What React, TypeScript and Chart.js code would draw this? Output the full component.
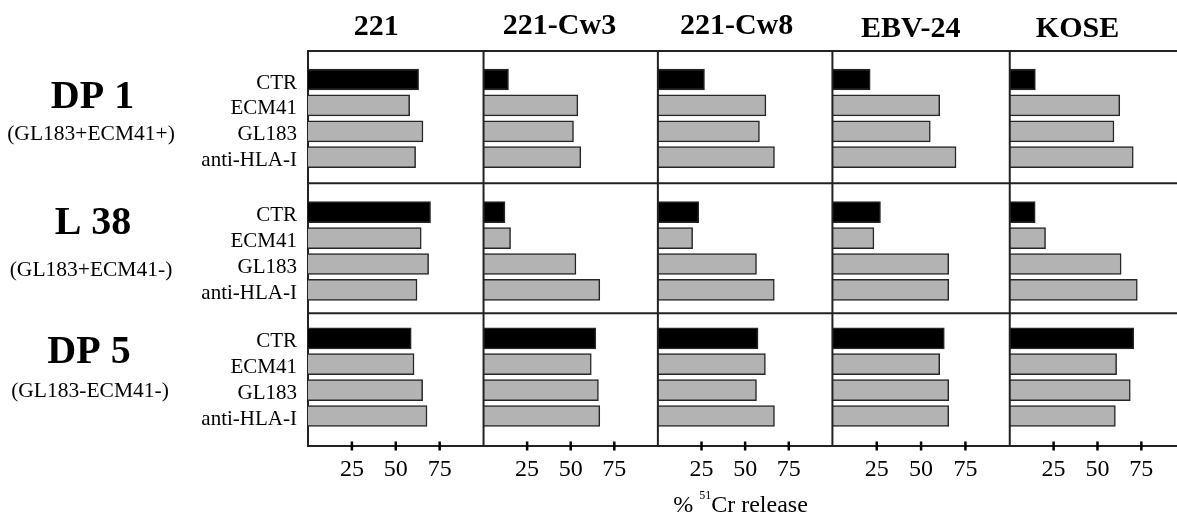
import React, { useEffect, useRef } from 'react';
import { Chart, registerables } from 'chart.js';

Chart.register(...registerables);

// ---------------- data ----------------
const targets = ['221', '221-Cw3', '221-Cw8', 'EBV-24', 'KOSE'];
const treatments = ['CTR', 'ECM41', 'GL183', 'anti-HLA-I'];
const effectors = ['DP 1', 'L 38', 'DP 5'];
const phenotypes = ['(GL183+ECM41+)', '(GL183+ECM41-)', '(GL183-ECM41-)'];
const xTickValues = [25, 50, 75];

// % 51Cr release, one inner array per target cell line, in treatment order
const dp1Release = [
  [63.0, 57.9, 65.5, 61.3],
  [14.3, 54.1, 51.6, 55.8],
  [26.7, 61.9, 58.2, 66.8],
  [21.3, 60.5, 55.2, 69.7],
  [14.6, 62.7, 59.4, 70.4],
];
const l38Release = [
  [69.8, 64.5, 68.7, 62.1],
  [12.3, 15.5, 53.0, 66.7],
  [23.4, 19.9, 56.5, 66.7],
  [27.1, 23.4, 65.6, 65.6],
  [14.5, 20.4, 63.5, 72.7],
];
const dp5Release = [
  [58.8, 60.4, 65.3, 67.8],
  [64.4, 61.8, 65.9, 66.7],
  [57.4, 61.6, 56.5, 66.8],
  [63.1, 60.5, 65.6, 65.6],
  [70.7, 60.9, 68.7, 60.2],
];

// ---------------- layout & style ----------------
const W = 1177;
const H = 513;
const PLOT_LEFT = 308;
const PLOT_TOP = 51;
const PLOT_BOTTOM = 446;
const COL_WIDTHS = [175.6, 174.4, 174.6, 177.4, 167.3];
const LAST_COL_MAX = (COL_WIDTHS[4] / 175.5) * 100;
const ROW_HEIGHTS = [132.3, 130, 132.7];
const FIRST_BAR_OFFSET = [28.5, 28.9, 25];
const BAR_PITCH = 25.9;
const TITLE_DX = [-19.4, -11.2, -8.6, -10.4, -20];
const TITLE_BASE = [35, 33.5, 33.5, 36.7, 36.7];
const ROW_LABEL_X = [92.5, 93, 89];
const ROW_LABEL_Y = [108, 233.5, 362.5];
const SUB_X = [91, 91, 90];
const SUB_Y = [140, 276, 396.5];
const FAMILY = '"Liberation Serif", "Times New Roman", serif';
const LINE = '#222';
const GRAY = '#b3b3b3';

const releaseByEffector = [dp1Release, l38Release, dp5Release];

const datasets: any[] = [];
releaseByEffector.forEach((rows, r) => {
  rows.forEach((vals, c) => {
    datasets.push({
      label: `${effectors[r]} / ${targets[c]}`,
      data: vals.map((v, i) => ({ x: v, y: i })),
      xAxisID: 'x' + c,
      yAxisID: 'y' + r,
      backgroundColor: vals.map((_, i) => (i === 0 ? '#000' : GRAY)),
      borderColor: '#262626',
      borderWidth: 1.5,
      barThickness: 21,
      grouped: false,
    });
  });
});

const noPadH = (s: any) => {
  s.paddingLeft = 0;
  s.paddingRight = 0;
};
const noPadV = (s: any) => {
  s.paddingTop = 0;
  s.paddingBottom = 0;
};

const scales: any = {};
targets.forEach((_, c) => {
  scales['x' + c] = {
    type: 'linear',
    position: 'bottom',
    stack: 'cols',
    stackWeight: COL_WIDTHS[c],
    weight: c,
    bounds: 'data',
    offset: false,
    min: 0,
    max: c === targets.length - 1 ? LAST_COL_MAX : 100,
    afterBuildTicks: (s: any) => {
      s.ticks = xTickValues.map((v) => ({ value: v }));
    },
    afterFit: (s: any) => {
      s.height = H - PLOT_BOTTOM;
      noPadH(s);
    },
    grid: { display: false, drawTicks: false },
    border: { display: true, color: LINE, width: 2 },
    ticks: {
      autoSkip: false,
      maxRotation: 0,
      padding: 9,
      color: '#000',
      font: { family: FAMILY, size: 24 },
    },
  };
});
effectors.forEach((_, r) => {
  const min = -FIRST_BAR_OFFSET[r] / BAR_PITCH;
  const max = min + ROW_HEIGHTS[r] / BAR_PITCH;
  scales['y' + r] = {
    type: 'linear',
    position: 'left',
    stack: 'rows',
    stackWeight: ROW_HEIGHTS[r],
    weight: effectors.length - r,
    reverse: true,
    bounds: 'data',
    offset: false,
    min,
    max,
    afterBuildTicks: (s: any) => {
      s.ticks = treatments.map((__, i) => ({ value: i }));
    },
    afterFit: (s: any) => {
      s.width = PLOT_LEFT;
      noPadV(s);
    },
    grid: { display: false, drawTicks: false, offset: false },
    border: { display: true, color: LINE, width: 2 },
    ticks: {
      autoSkip: false,
      padding: 11,
      labelOffset: 3.5,
      color: '#000',
      font: { family: FAMILY, size: 21 },
      callback: (v: any) => treatments[v] ?? '',
    },
  };
});

const decorations = {
  id: 'decorations',
  afterDatasetsDraw(chart: any) {
    const ctx = chart.ctx;
    const ca = chart.chartArea;
    const line = (x1: number, y1: number, x2: number, y2: number) => {
      ctx.beginPath();
      ctx.moveTo(x1, y1);
      ctx.lineTo(x2, y2);
      ctx.stroke();
    };
    ctx.save();
    ctx.strokeStyle = LINE;
    ctx.lineWidth = 2;
    line(ca.left, ca.top, ca.right, ca.top);
    for (let r = 1; r < effectors.length; r++) {
      const s = chart.scales['y' + r];
      line(ca.left, s.top, ca.right, s.top);
    }
    for (let c = 1; c < targets.length; c++) {
      const s = chart.scales['x' + c];
      line(s.left, ca.top, s.left, ca.bottom);
    }
    ctx.strokeStyle = '#000';
    ctx.lineWidth = 2.5;
    for (let c = 0; c < targets.length; c++) {
      const s = chart.scales['x' + c];
      xTickValues.forEach((v) => {
        const px = s.getPixelForValue(v);
        line(px, ca.bottom - 4.5, px, ca.bottom + 4.5);
      });
    }
    ctx.restore();
  },
  afterDraw(chart: any) {
    const ctx = chart.ctx;
    ctx.save();
    ctx.fillStyle = '#000';
    ctx.textBaseline = 'alphabetic';
    ctx.textAlign = 'center';
    ctx.font = `bold 30px ${FAMILY}`;
    targets.forEach((t, c) => {
      const s = chart.scales['x' + c];
      ctx.fillText(t, s.getPixelForValue(50) + TITLE_DX[c], TITLE_BASE[c]);
    });
    effectors.forEach((e, r) => {
      ctx.font = `bold 40px ${FAMILY}`;
      ctx.fillText(e, ROW_LABEL_X[r], ROW_LABEL_Y[r]);
      ctx.font = `21.5px ${FAMILY}`;
      ctx.fillText(phenotypes[r], SUB_X[r], SUB_Y[r]);
    });
    // axis title: % 51Cr release
    const fMain = `24px ${FAMILY}`;
    const fSup = `12px ${FAMILY}`;
    ctx.font = fMain;
    const w1 = ctx.measureText('% ').width;
    const w3 = ctx.measureText('Cr release').width;
    ctx.font = fSup;
    const w2 = ctx.measureText('51').width;
    const cx = 740.5;
    const by = 512;
    let x = cx - (w1 + w2 + w3) / 2;
    ctx.textAlign = 'left';
    ctx.font = fMain;
    ctx.fillText('% ', x, by);
    x += w1;
    ctx.font = fSup;
    ctx.fillText('51', x, by - 13);
    x += w2;
    ctx.font = fMain;
    ctx.fillText('Cr release', x, by);
    ctx.restore();
  },
};

export default function App() {
  const ref = useRef<HTMLCanvasElement>(null);
  useEffect(() => {
    if (!ref.current) return;
    const chart = new Chart(ref.current, {
      type: 'bar',
      data: { datasets },
      options: {
        indexAxis: 'y',
        responsive: false,
        animation: false,
        devicePixelRatio: 1,
        events: [],
        layout: { padding: { top: PLOT_TOP, left: 0, right: 0, bottom: 0 } },
        plugins: { legend: { display: false }, tooltip: { enabled: false } },
        scales,
      } as any,
      plugins: [decorations],
    });
    return () => chart.destroy();
  }, []);
  return (
    <div style={{ position: 'absolute', left: 0, top: 0, width: W, height: H, background: '#fff' }}>
      <canvas ref={ref} width={W} height={H} style={{ display: 'block', width: W, height: H }} />
    </div>
  );
}
